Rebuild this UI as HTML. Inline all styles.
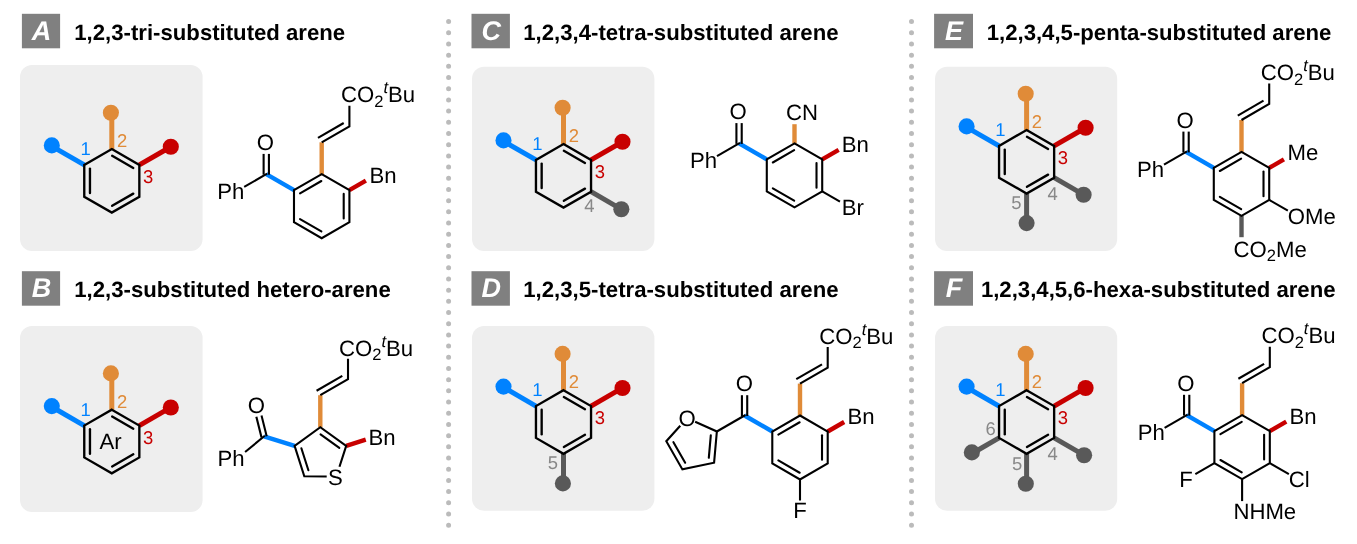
<!DOCTYPE html>
<html lang="en">
<head>
<meta charset="utf-8">
<title>Substituted arenes</title>
<style>
html,body{margin:0;padding:0;background:#fff;}
body{width:1357px;height:544px;overflow:hidden;}
svg{display:block;will-change:transform;text-rendering:geometricPrecision;font-family:"Liberation Sans",sans-serif;}
</style>
</head>
<body>
<svg width="1357" height="544" viewBox="0 0 1357 544">
<rect x="21.9" y="13.8" width="38.2" height="34.5" rx="0" fill="#808080"/>
<text x="41.5" y="39.9" font-size="27" fill="#fff" text-anchor="middle" font-weight="bold" font-style="italic">A</text>
<text x="74.3" y="39.5" font-size="22.16" fill="#000" text-anchor="start" font-weight="bold">1,2,3-tri-substituted arene</text>
<rect x="21.9" y="271.2" width="38.2" height="34.5" rx="0" fill="#808080"/>
<text x="41.5" y="297.3" font-size="27" fill="#fff" text-anchor="middle" font-weight="bold" font-style="italic">B</text>
<text x="74.3" y="296.9" font-size="22.16" fill="#000" text-anchor="start" font-weight="bold">1,2,3-substituted hetero-arene</text>
<rect x="471.5" y="13.8" width="38.4" height="34.5" rx="0" fill="#808080"/>
<text x="491.2" y="39.9" font-size="27" fill="#fff" text-anchor="middle" font-weight="bold" font-style="italic">C</text>
<text x="523.3" y="39.5" font-size="22.16" fill="#000" text-anchor="start" font-weight="bold">1,2,3,4-tetra-substituted arene</text>
<rect x="471.5" y="271.2" width="38.4" height="34.5" rx="0" fill="#808080"/>
<text x="491.2" y="297.3" font-size="27" fill="#fff" text-anchor="middle" font-weight="bold" font-style="italic">D</text>
<text x="523.3" y="296.9" font-size="22.16" fill="#000" text-anchor="start" font-weight="bold">1,2,3,5-tetra-substituted arene</text>
<rect x="934.1" y="13.8" width="38.9" height="34.5" rx="0" fill="#808080"/>
<text x="954.05" y="39.9" font-size="27" fill="#fff" text-anchor="middle" font-weight="bold" font-style="italic">E</text>
<text x="986.7" y="39.5" font-size="22.16" fill="#000" text-anchor="start" font-weight="bold">1,2,3,4,5-penta-substituted arene</text>
<rect x="934.1" y="271.2" width="38.9" height="34.5" rx="0" fill="#808080"/>
<text x="954.05" y="297.3" font-size="27" fill="#fff" text-anchor="middle" font-weight="bold" font-style="italic">F</text>
<text x="980.9" y="296.9" font-size="22.16" fill="#000" text-anchor="start" font-weight="bold">1,2,3,4,5,6-hexa-substituted arene</text>
<line x1="448.6" y1="21.6" x2="448.6" y2="525.5" stroke="#bbbbbb" stroke-width="5" stroke-linecap="round" stroke-dasharray="0 11.19"/>
<line x1="911.5" y1="21.6" x2="911.5" y2="525.5" stroke="#bbbbbb" stroke-width="5" stroke-linecap="round" stroke-dasharray="0 11.19"/>
<rect x="20" y="65" width="182.6" height="186" rx="12" fill="#eeeeee"/>
<line x1="84.26" y1="164.9" x2="56.39" y2="148.81" stroke="#0082ff" stroke-width="5" stroke-linecap="butt"/>
<circle cx="51.8" cy="145.4" r="8.05" fill="#0082ff"/>
<line x1="111.8" y1="149" x2="111.8" y2="118.14" stroke="#e08b38" stroke-width="5" stroke-linecap="butt"/>
<circle cx="110.9" cy="112.7" r="8.05" fill="#e08b38"/>
<line x1="139.34" y1="164.9" x2="166.06" y2="149.47" stroke="#c80000" stroke-width="5" stroke-linecap="butt"/>
<circle cx="170.8" cy="146.8" r="8.05" fill="#c80000"/>
<path d="M111.8 149 L139.34 164.9 L139.34 196.7 L111.8 212.6 L84.26 196.7 L84.26 164.9 Z" fill="none" stroke="#000" stroke-width="2.35" stroke-linejoin="miter" stroke-miterlimit="10"/>
<line x1="112.15" y1="155.78" x2="133.29" y2="167.99" stroke="#000" stroke-width="2.35" stroke-linecap="round"/>
<line x1="133.29" y1="193.61" x2="112.15" y2="205.82" stroke="#000" stroke-width="2.35" stroke-linecap="round"/>
<line x1="89.96" y1="193.01" x2="89.96" y2="168.59" stroke="#000" stroke-width="2.35" stroke-linecap="round"/>
<text x="85.7" y="155.2" font-size="18.47" fill="#0082ff" text-anchor="middle">1</text>
<text x="122.2" y="146.8" font-size="18.47" fill="#e08b38" text-anchor="middle">2</text>
<text x="148.1" y="183.2" font-size="18.47" fill="#c80000" text-anchor="middle">3</text>
<rect x="20" y="326" width="182.6" height="186" rx="12" fill="#eeeeee"/>
<line x1="84.26" y1="425.6" x2="56.39" y2="409.51" stroke="#0082ff" stroke-width="5" stroke-linecap="butt"/>
<circle cx="51.8" cy="406.1" r="8.05" fill="#0082ff"/>
<line x1="111.8" y1="409.7" x2="111.8" y2="378.84" stroke="#e08b38" stroke-width="5" stroke-linecap="butt"/>
<circle cx="110.9" cy="373.4" r="8.05" fill="#e08b38"/>
<line x1="139.34" y1="425.6" x2="166.06" y2="410.17" stroke="#c80000" stroke-width="5" stroke-linecap="butt"/>
<circle cx="170.8" cy="407.5" r="8.05" fill="#c80000"/>
<path d="M111.8 409.7 L139.34 425.6 L139.34 457.4 L111.8 473.3 L84.26 457.4 L84.26 425.6 Z" fill="none" stroke="#000" stroke-width="2.35" stroke-linejoin="miter" stroke-miterlimit="10"/>
<line x1="112.15" y1="416.48" x2="133.29" y2="428.69" stroke="#000" stroke-width="2.35" stroke-linecap="round"/>
<line x1="133.29" y1="454.31" x2="112.15" y2="466.52" stroke="#000" stroke-width="2.35" stroke-linecap="round"/>
<line x1="89.96" y1="453.71" x2="89.96" y2="429.29" stroke="#000" stroke-width="2.35" stroke-linecap="round"/>
<text x="85.7" y="415.9" font-size="18.47" fill="#0082ff" text-anchor="middle">1</text>
<text x="122.2" y="407.5" font-size="18.47" fill="#e08b38" text-anchor="middle">2</text>
<text x="148.1" y="443.9" font-size="18.47" fill="#c80000" text-anchor="middle">3</text>
<text x="110.6" y="449" font-size="22.16" fill="#000" text-anchor="middle">Ar</text>
<rect x="472" y="66.7" width="182.4" height="184.3" rx="12" fill="#eeeeee"/>
<line x1="535.96" y1="159.9" x2="508.09" y2="143.81" stroke="#0082ff" stroke-width="5" stroke-linecap="butt"/>
<circle cx="503.5" cy="140.4" r="8.05" fill="#0082ff"/>
<line x1="563.5" y1="144" x2="563.5" y2="113.14" stroke="#e08b38" stroke-width="5" stroke-linecap="butt"/>
<circle cx="562.6" cy="107.7" r="8.05" fill="#e08b38"/>
<line x1="591.04" y1="159.9" x2="617.76" y2="144.47" stroke="#c80000" stroke-width="5" stroke-linecap="butt"/>
<circle cx="622.5" cy="141.8" r="8.05" fill="#c80000"/>
<line x1="591.04" y1="191.7" x2="616.8" y2="206.57" stroke="#595959" stroke-width="5" stroke-linecap="butt"/>
<circle cx="621.35" cy="209.2" r="8.05" fill="#595959"/>
<path d="M563.5 144 L591.04 159.9 L591.04 191.7 L563.5 207.6 L535.96 191.7 L535.96 159.9 Z" fill="none" stroke="#000" stroke-width="2.35" stroke-linejoin="miter" stroke-miterlimit="10"/>
<line x1="563.85" y1="150.78" x2="584.99" y2="162.99" stroke="#000" stroke-width="2.35" stroke-linecap="round"/>
<line x1="584.99" y1="188.61" x2="563.85" y2="200.82" stroke="#000" stroke-width="2.35" stroke-linecap="round"/>
<line x1="541.66" y1="188.01" x2="541.66" y2="163.59" stroke="#000" stroke-width="2.35" stroke-linecap="round"/>
<text x="537.4" y="150.2" font-size="18.47" fill="#0082ff" text-anchor="middle">1</text>
<text x="573.9" y="141.8" font-size="18.47" fill="#e08b38" text-anchor="middle">2</text>
<text x="599.8" y="178.2" font-size="18.47" fill="#c80000" text-anchor="middle">3</text>
<text x="589.5" y="211.8" font-size="18.47" fill="#888888" text-anchor="middle">4</text>
<rect x="472" y="326" width="182.4" height="184.8" rx="12" fill="#eeeeee"/>
<line x1="535.96" y1="406.1" x2="508.09" y2="390.01" stroke="#0082ff" stroke-width="5" stroke-linecap="butt"/>
<circle cx="503.5" cy="386.6" r="8.05" fill="#0082ff"/>
<line x1="563.5" y1="390.2" x2="563.5" y2="359.34" stroke="#e08b38" stroke-width="5" stroke-linecap="butt"/>
<circle cx="562.6" cy="353.9" r="8.05" fill="#e08b38"/>
<line x1="591.04" y1="406.1" x2="617.76" y2="390.67" stroke="#c80000" stroke-width="5" stroke-linecap="butt"/>
<circle cx="622.5" cy="388" r="8.05" fill="#c80000"/>
<line x1="563.5" y1="453.8" x2="563.5" y2="478.97" stroke="#595959" stroke-width="5" stroke-linecap="butt"/>
<circle cx="562.9" cy="483.4" r="8.05" fill="#595959"/>
<path d="M563.5 390.2 L591.04 406.1 L591.04 437.9 L563.5 453.8 L535.96 437.9 L535.96 406.1 Z" fill="none" stroke="#000" stroke-width="2.35" stroke-linejoin="miter" stroke-miterlimit="10"/>
<line x1="563.85" y1="396.98" x2="584.99" y2="409.19" stroke="#000" stroke-width="2.35" stroke-linecap="round"/>
<line x1="584.99" y1="434.81" x2="563.85" y2="447.02" stroke="#000" stroke-width="2.35" stroke-linecap="round"/>
<line x1="541.66" y1="434.21" x2="541.66" y2="409.79" stroke="#000" stroke-width="2.35" stroke-linecap="round"/>
<text x="537.4" y="396.4" font-size="18.47" fill="#0082ff" text-anchor="middle">1</text>
<text x="573.9" y="388" font-size="18.47" fill="#e08b38" text-anchor="middle">2</text>
<text x="599.8" y="424.4" font-size="18.47" fill="#c80000" text-anchor="middle">3</text>
<text x="553" y="469" font-size="18.47" fill="#888888" text-anchor="middle">5</text>
<rect x="935" y="66.7" width="182.2" height="184.3" rx="12" fill="#eeeeee"/>
<line x1="999.06" y1="145.9" x2="971.19" y2="129.81" stroke="#0082ff" stroke-width="5" stroke-linecap="butt"/>
<circle cx="966.6" cy="126.4" r="8.05" fill="#0082ff"/>
<line x1="1026.6" y1="130" x2="1026.6" y2="99.14" stroke="#e08b38" stroke-width="5" stroke-linecap="butt"/>
<circle cx="1025.7" cy="93.7" r="8.05" fill="#e08b38"/>
<line x1="1054.14" y1="145.9" x2="1080.86" y2="130.47" stroke="#c80000" stroke-width="5" stroke-linecap="butt"/>
<circle cx="1085.6" cy="127.8" r="8.05" fill="#c80000"/>
<line x1="1054.14" y1="177.7" x2="1079.18" y2="192.16" stroke="#595959" stroke-width="5" stroke-linecap="butt"/>
<circle cx="1083.6" cy="194.7" r="8.05" fill="#595959"/>
<line x1="1026.6" y1="193.6" x2="1026.6" y2="218.68" stroke="#595959" stroke-width="5" stroke-linecap="butt"/>
<circle cx="1026.6" cy="223.1" r="8.05" fill="#595959"/>
<path d="M1026.6 130 L1054.14 145.9 L1054.14 177.7 L1026.6 193.6 L999.06 177.7 L999.06 145.9 Z" fill="none" stroke="#000" stroke-width="2.35" stroke-linejoin="miter" stroke-miterlimit="10"/>
<line x1="1026.95" y1="136.78" x2="1048.09" y2="148.99" stroke="#000" stroke-width="2.35" stroke-linecap="round"/>
<line x1="1048.09" y1="174.61" x2="1026.95" y2="186.82" stroke="#000" stroke-width="2.35" stroke-linecap="round"/>
<line x1="1004.76" y1="174.01" x2="1004.76" y2="149.59" stroke="#000" stroke-width="2.35" stroke-linecap="round"/>
<text x="1000.5" y="136.2" font-size="18.47" fill="#0082ff" text-anchor="middle">1</text>
<text x="1037" y="127.8" font-size="18.47" fill="#e08b38" text-anchor="middle">2</text>
<text x="1062.9" y="164.2" font-size="18.47" fill="#c80000" text-anchor="middle">3</text>
<text x="1052.6" y="199.8" font-size="18.47" fill="#888888" text-anchor="middle">4</text>
<text x="1016.3" y="209" font-size="18.47" fill="#888888" text-anchor="middle">5</text>
<rect x="935" y="326" width="182.2" height="184.8" rx="12" fill="#eeeeee"/>
<line x1="999.06" y1="406.1" x2="971.19" y2="390.01" stroke="#0082ff" stroke-width="5" stroke-linecap="butt"/>
<circle cx="966.6" cy="386.6" r="8.05" fill="#0082ff"/>
<line x1="1026.6" y1="390.2" x2="1026.6" y2="359.34" stroke="#e08b38" stroke-width="5" stroke-linecap="butt"/>
<circle cx="1025.7" cy="353.9" r="8.05" fill="#e08b38"/>
<line x1="1054.14" y1="406.1" x2="1080.86" y2="390.67" stroke="#c80000" stroke-width="5" stroke-linecap="butt"/>
<circle cx="1085.6" cy="388" r="8.05" fill="#c80000"/>
<line x1="1054.14" y1="437.9" x2="1079.64" y2="452.62" stroke="#595959" stroke-width="5" stroke-linecap="butt"/>
<circle cx="1084.1" cy="455.3" r="8.05" fill="#595959"/>
<line x1="1026.6" y1="453.8" x2="1026.6" y2="479.22" stroke="#595959" stroke-width="5" stroke-linecap="butt"/>
<circle cx="1025.8" cy="483.7" r="8.05" fill="#595959"/>
<line x1="999.06" y1="437.9" x2="976.36" y2="451" stroke="#595959" stroke-width="5" stroke-linecap="butt"/>
<circle cx="971.85" cy="452.4" r="8.05" fill="#595959"/>
<path d="M1026.6 390.2 L1054.14 406.1 L1054.14 437.9 L1026.6 453.8 L999.06 437.9 L999.06 406.1 Z" fill="none" stroke="#000" stroke-width="2.35" stroke-linejoin="miter" stroke-miterlimit="10"/>
<line x1="1026.95" y1="396.98" x2="1048.09" y2="409.19" stroke="#000" stroke-width="2.35" stroke-linecap="round"/>
<line x1="1048.09" y1="434.81" x2="1026.95" y2="447.02" stroke="#000" stroke-width="2.35" stroke-linecap="round"/>
<line x1="1004.76" y1="434.21" x2="1004.76" y2="409.79" stroke="#000" stroke-width="2.35" stroke-linecap="round"/>
<text x="1000.5" y="396.4" font-size="18.47" fill="#0082ff" text-anchor="middle">1</text>
<text x="1037" y="388" font-size="18.47" fill="#e08b38" text-anchor="middle">2</text>
<text x="1062.9" y="424.4" font-size="18.47" fill="#c80000" text-anchor="middle">3</text>
<text x="1052.6" y="460" font-size="18.47" fill="#888888" text-anchor="middle">4</text>
<text x="1017.1" y="470" font-size="18.47" fill="#888888" text-anchor="middle">5</text>
<text x="990.6" y="435" font-size="18.47" fill="#888888" text-anchor="middle">6</text>
<line x1="321.7" y1="174.2" x2="321.7" y2="142.3" stroke="#e08b38" stroke-width="4.4" stroke-linecap="butt"/>
<path d="M321.7 142.3 L349.41 126.3 L349.41 105.8" fill="none" stroke="#000" stroke-width="2.1" stroke-linejoin="miter" stroke-miterlimit="10"/>
<line x1="317.98" y1="137.86" x2="343.7" y2="123.01" stroke="#000" stroke-width="2.1" stroke-linecap="butt"/>
<text x="341.01" y="102.3" font-size="22.16" fill="#000" text-anchor="start">CO<tspan dy="4.6" font-size="16.5">2</tspan><tspan dy="-13.7" font-size="16.5" font-style="italic">t</tspan><tspan dy="9.1">Bu</tspan></text>
<line x1="293.99" y1="190.2" x2="266.27" y2="174.2" stroke="#0082ff" stroke-width="4.4" stroke-linecap="butt"/>
<line x1="263.62" y1="174.7" x2="263.62" y2="153.9" stroke="#000" stroke-width="2.1" stroke-linecap="butt"/>
<line x1="268.92" y1="174.7" x2="268.92" y2="153.9" stroke="#000" stroke-width="2.1" stroke-linecap="butt"/>
<text x="265.37" y="150.1" font-size="22.16" fill="#000" text-anchor="middle">O</text>
<line x1="267.14" y1="173.7" x2="244.19" y2="186.95" stroke="#000" stroke-width="2.1" stroke-linecap="butt"/>
<text x="244.39" y="198.95" font-size="22.16" fill="#000" text-anchor="end">Ph</text>
<line x1="349.41" y1="190.2" x2="365.87" y2="180.7" stroke="#c80000" stroke-width="4.4" stroke-linecap="butt"/>
<text x="369.5" y="182.5" font-size="22.16" fill="#000" text-anchor="start">Bn</text>
<path d="M321.7 174.2 L349.41 190.2 L349.41 222.2 L321.7 238.2 L293.99 222.2 L293.99 190.2 Z" fill="none" stroke="#000" stroke-width="2.1" stroke-linejoin="miter" stroke-miterlimit="10"/>
<line x1="300.03" y1="193.29" x2="321.35" y2="180.98" stroke="#000" stroke-width="2.1" stroke-linecap="round"/>
<line x1="343.71" y1="193.89" x2="343.71" y2="218.51" stroke="#000" stroke-width="2.1" stroke-linecap="round"/>
<line x1="321.35" y1="231.42" x2="300.03" y2="219.11" stroke="#000" stroke-width="2.1" stroke-linecap="round"/>
<line x1="766.79" y1="159.4" x2="739.07" y2="143.4" stroke="#0082ff" stroke-width="4.4" stroke-linecap="butt"/>
<line x1="736.42" y1="143.9" x2="736.42" y2="123.1" stroke="#000" stroke-width="2.1" stroke-linecap="butt"/>
<line x1="741.72" y1="143.9" x2="741.72" y2="123.1" stroke="#000" stroke-width="2.1" stroke-linecap="butt"/>
<text x="738.17" y="119.3" font-size="22.16" fill="#000" text-anchor="middle">O</text>
<line x1="739.94" y1="142.9" x2="716.99" y2="156.15" stroke="#000" stroke-width="2.1" stroke-linecap="butt"/>
<text x="717.19" y="168.15" font-size="22.16" fill="#000" text-anchor="end">Ph</text>
<line x1="794.5" y1="143.4" x2="794.5" y2="124.2" stroke="#e08b38" stroke-width="4.4" stroke-linecap="butt"/>
<text x="786" y="119.6" font-size="22.16" fill="#000" text-anchor="start">CN</text>
<line x1="822.21" y1="159.4" x2="838.67" y2="149.9" stroke="#c80000" stroke-width="4.4" stroke-linecap="butt"/>
<text x="841.7" y="151.5" font-size="22.16" fill="#000" text-anchor="start">Bn</text>
<line x1="822.21" y1="191.4" x2="839.97" y2="201.65" stroke="#000" stroke-width="2.1" stroke-linecap="butt"/>
<text x="841.7" y="215" font-size="22.16" fill="#000" text-anchor="start">Br</text>
<path d="M794.5 143.4 L822.21 159.4 L822.21 191.4 L794.5 207.4 L766.79 191.4 L766.79 159.4 Z" fill="none" stroke="#000" stroke-width="2.1" stroke-linejoin="miter" stroke-miterlimit="10"/>
<line x1="772.83" y1="162.49" x2="794.15" y2="150.18" stroke="#000" stroke-width="2.1" stroke-linecap="round"/>
<line x1="816.51" y1="163.09" x2="816.51" y2="187.71" stroke="#000" stroke-width="2.1" stroke-linecap="round"/>
<line x1="794.15" y1="200.62" x2="772.83" y2="188.31" stroke="#000" stroke-width="2.1" stroke-linecap="round"/>
<line x1="800" y1="415.5" x2="800" y2="383.6" stroke="#e08b38" stroke-width="4.4" stroke-linecap="butt"/>
<path d="M800 383.6 L827.71 367.6 L827.71 347.1" fill="none" stroke="#000" stroke-width="2.1" stroke-linejoin="miter" stroke-miterlimit="10"/>
<line x1="796.28" y1="379.16" x2="822" y2="364.31" stroke="#000" stroke-width="2.1" stroke-linecap="butt"/>
<text x="819.31" y="343.6" font-size="22.16" fill="#000" text-anchor="start">CO<tspan dy="4.6" font-size="16.5">2</tspan><tspan dy="-13.7" font-size="16.5" font-style="italic">t</tspan><tspan dy="9.1">Bu</tspan></text>
<line x1="772.29" y1="431.5" x2="744.57" y2="415.5" stroke="#0082ff" stroke-width="4.4" stroke-linecap="butt"/>
<line x1="741.92" y1="416" x2="741.92" y2="395.2" stroke="#000" stroke-width="2.1" stroke-linecap="butt"/>
<line x1="747.22" y1="416" x2="747.22" y2="395.2" stroke="#000" stroke-width="2.1" stroke-linecap="butt"/>
<text x="744.37" y="391.4" font-size="22.16" fill="#000" text-anchor="middle">O</text>
<line x1="827.71" y1="431.5" x2="844.17" y2="422" stroke="#c80000" stroke-width="4.4" stroke-linecap="butt"/>
<text x="847.5" y="423.5" font-size="22.16" fill="#000" text-anchor="start">Bn</text>
<line x1="800" y1="479.5" x2="800" y2="500.5" stroke="#000" stroke-width="2.1" stroke-linecap="butt"/>
<text x="800" y="518.3" font-size="22.16" fill="#000" text-anchor="middle">F</text>
<path d="M800 415.5 L827.71 431.5 L827.71 463.5 L800 479.5 L772.29 463.5 L772.29 431.5 Z" fill="none" stroke="#000" stroke-width="2.1" stroke-linejoin="miter" stroke-miterlimit="10"/>
<line x1="778.33" y1="434.59" x2="799.65" y2="422.28" stroke="#000" stroke-width="2.1" stroke-linecap="round"/>
<line x1="822.01" y1="435.19" x2="822.01" y2="459.81" stroke="#000" stroke-width="2.1" stroke-linecap="round"/>
<line x1="799.65" y1="472.72" x2="778.33" y2="460.41" stroke="#000" stroke-width="2.1" stroke-linecap="round"/>
<line x1="745.44" y1="415" x2="716.86" y2="431.5" stroke="#000" stroke-width="2.1" stroke-linecap="butt"/>
<path d="M695.14 421.79 L716.86 431.5 L714.1 462.7 L682.4 469.4 L666.3 441.2 L680.24 425.79" fill="none" stroke="#000" stroke-width="2.1" stroke-linejoin="miter" stroke-miterlimit="10"/>
<line x1="710.8" y1="435.38" x2="708.81" y2="457.81" stroke="#000" stroke-width="2.1" stroke-linecap="round"/>
<line x1="685.17" y1="462.75" x2="673.43" y2="442.2" stroke="#000" stroke-width="2.1" stroke-linecap="round"/>
<text x="687.1" y="425.8" font-size="22.16" fill="#000" text-anchor="middle">O</text>
<line x1="1241.5" y1="151.9" x2="1241.5" y2="120" stroke="#e08b38" stroke-width="4.4" stroke-linecap="butt"/>
<path d="M1241.5 120 L1269.21 104 L1269.21 83.5" fill="none" stroke="#000" stroke-width="2.1" stroke-linejoin="miter" stroke-miterlimit="10"/>
<line x1="1237.78" y1="115.56" x2="1263.5" y2="100.71" stroke="#000" stroke-width="2.1" stroke-linecap="butt"/>
<text x="1260.81" y="80" font-size="22.16" fill="#000" text-anchor="start">CO<tspan dy="4.6" font-size="16.5">2</tspan><tspan dy="-13.7" font-size="16.5" font-style="italic">t</tspan><tspan dy="9.1">Bu</tspan></text>
<line x1="1213.79" y1="167.9" x2="1186.07" y2="151.9" stroke="#0082ff" stroke-width="4.4" stroke-linecap="butt"/>
<line x1="1183.42" y1="152.4" x2="1183.42" y2="131.6" stroke="#000" stroke-width="2.1" stroke-linecap="butt"/>
<line x1="1188.72" y1="152.4" x2="1188.72" y2="131.6" stroke="#000" stroke-width="2.1" stroke-linecap="butt"/>
<text x="1185.17" y="127.8" font-size="22.16" fill="#000" text-anchor="middle">O</text>
<line x1="1186.94" y1="151.4" x2="1163.99" y2="164.65" stroke="#000" stroke-width="2.1" stroke-linecap="butt"/>
<text x="1164.19" y="176.65" font-size="22.16" fill="#000" text-anchor="end">Ph</text>
<line x1="1269.21" y1="167.9" x2="1283.94" y2="159.4" stroke="#c80000" stroke-width="4.4" stroke-linecap="butt"/>
<text x="1287.5" y="160.2" font-size="22.16" fill="#000" text-anchor="start">Me</text>
<line x1="1269.21" y1="199.9" x2="1287.83" y2="210.65" stroke="#000" stroke-width="2.1" stroke-linecap="butt"/>
<text x="1287.8" y="224.4" font-size="22.16" fill="#000" text-anchor="start">OMe</text>
<line x1="1241.5" y1="215.9" x2="1241.5" y2="237.2" stroke="#595959" stroke-width="4.4" stroke-linecap="butt"/>
<text x="1233.5" y="256.8" font-size="22.16" fill="#000" text-anchor="start">CO<tspan dy="4.6" font-size="16.5">2</tspan><tspan dy="-4.6">Me</tspan></text>
<path d="M1241.5 151.9 L1269.21 167.9 L1269.21 199.9 L1241.5 215.9 L1213.79 199.9 L1213.79 167.9 Z" fill="none" stroke="#000" stroke-width="2.1" stroke-linejoin="miter" stroke-miterlimit="10"/>
<line x1="1219.83" y1="170.99" x2="1241.15" y2="158.68" stroke="#000" stroke-width="2.1" stroke-linecap="round"/>
<line x1="1263.51" y1="171.59" x2="1263.51" y2="196.21" stroke="#000" stroke-width="2.1" stroke-linecap="round"/>
<line x1="1241.15" y1="209.12" x2="1219.83" y2="196.81" stroke="#000" stroke-width="2.1" stroke-linecap="round"/>
<line x1="1242.1" y1="415.1" x2="1242.1" y2="383.2" stroke="#e08b38" stroke-width="4.4" stroke-linecap="butt"/>
<path d="M1242.1 383.2 L1269.81 367.2 L1269.81 346.7" fill="none" stroke="#000" stroke-width="2.1" stroke-linejoin="miter" stroke-miterlimit="10"/>
<line x1="1238.38" y1="378.76" x2="1264.1" y2="363.91" stroke="#000" stroke-width="2.1" stroke-linecap="butt"/>
<text x="1261.41" y="343.2" font-size="22.16" fill="#000" text-anchor="start">CO<tspan dy="4.6" font-size="16.5">2</tspan><tspan dy="-13.7" font-size="16.5" font-style="italic">t</tspan><tspan dy="9.1">Bu</tspan></text>
<line x1="1214.39" y1="431.1" x2="1186.67" y2="415.1" stroke="#0082ff" stroke-width="4.4" stroke-linecap="butt"/>
<line x1="1184.02" y1="415.6" x2="1184.02" y2="394.8" stroke="#000" stroke-width="2.1" stroke-linecap="butt"/>
<line x1="1189.32" y1="415.6" x2="1189.32" y2="394.8" stroke="#000" stroke-width="2.1" stroke-linecap="butt"/>
<text x="1185.77" y="391" font-size="22.16" fill="#000" text-anchor="middle">O</text>
<line x1="1187.54" y1="414.6" x2="1164.59" y2="427.85" stroke="#000" stroke-width="2.1" stroke-linecap="butt"/>
<text x="1164.79" y="439.85" font-size="22.16" fill="#000" text-anchor="end">Ph</text>
<line x1="1269.81" y1="431.1" x2="1286.27" y2="421.6" stroke="#c80000" stroke-width="4.4" stroke-linecap="butt"/>
<text x="1289.5" y="423.9" font-size="22.16" fill="#000" text-anchor="start">Bn</text>
<line x1="1269.81" y1="463.1" x2="1288.87" y2="474.1" stroke="#000" stroke-width="2.1" stroke-linecap="butt"/>
<text x="1288.7" y="487" font-size="22.16" fill="#000" text-anchor="start">Cl</text>
<line x1="1214.39" y1="463.1" x2="1195.33" y2="474.1" stroke="#000" stroke-width="2.1" stroke-linecap="butt"/>
<text x="1186.01" y="487.1" font-size="22.16" fill="#000" text-anchor="middle">F</text>
<line x1="1242.1" y1="479.1" x2="1242.1" y2="501.1" stroke="#000" stroke-width="2.1" stroke-linecap="butt"/>
<text x="1233.4" y="518.7" font-size="22.16" fill="#000" text-anchor="start">NHMe</text>
<path d="M1242.1 415.1 L1269.81 431.1 L1269.81 463.1 L1242.1 479.1 L1214.39 463.1 L1214.39 431.1 Z" fill="none" stroke="#000" stroke-width="2.1" stroke-linejoin="miter" stroke-miterlimit="10"/>
<line x1="1220.43" y1="434.19" x2="1241.75" y2="421.88" stroke="#000" stroke-width="2.1" stroke-linecap="round"/>
<line x1="1264.11" y1="434.79" x2="1264.11" y2="459.41" stroke="#000" stroke-width="2.1" stroke-linecap="round"/>
<line x1="1241.75" y1="472.32" x2="1220.43" y2="460.01" stroke="#000" stroke-width="2.1" stroke-linecap="round"/>
<line x1="320.3" y1="427.2" x2="320.3" y2="395.2" stroke="#e08b38" stroke-width="4.4" stroke-linecap="butt"/>
<path d="M320.3 395.2 L348.01 379.2 L348.01 358.7" fill="none" stroke="#000" stroke-width="2.1" stroke-linejoin="miter" stroke-miterlimit="10"/>
<line x1="316.58" y1="390.76" x2="342.3" y2="375.91" stroke="#000" stroke-width="2.1" stroke-linecap="butt"/>
<text x="339.01" y="355.7" font-size="22.16" fill="#000" text-anchor="start">CO<tspan dy="4.6" font-size="16.5">2</tspan><tspan dy="-13.7" font-size="16.5" font-style="italic">t</tspan><tspan dy="9.1">Bu</tspan></text>
<line x1="294.6" y1="445.8" x2="264" y2="436.44" stroke="#0082ff" stroke-width="4.4" stroke-linecap="butt"/>
<line x1="261.55" y1="437.57" x2="256.35" y2="416.71" stroke="#000" stroke-width="2.1" stroke-linecap="butt"/>
<line x1="266.69" y1="436.29" x2="261.49" y2="415.43" stroke="#000" stroke-width="2.1" stroke-linecap="butt"/>
<text x="256.26" y="412.79" font-size="22.16" fill="#000" text-anchor="middle">O</text>
<line x1="264.77" y1="435.81" x2="245.09" y2="452.03" stroke="#000" stroke-width="2.1" stroke-linecap="butt"/>
<text x="244.5" y="465.6" font-size="22.16" fill="#000" text-anchor="end">Ph</text>
<line x1="346.2" y1="445.8" x2="365.75" y2="439.64" stroke="#c80000" stroke-width="4.4" stroke-linecap="butt"/>
<text x="368.5" y="445" font-size="22.16" fill="#000" text-anchor="start">Bn</text>
<path d="M339.47 466.74 L346.2 445.8 L320.3 427.2 L294.6 445.8 L304.3 476.2 L326.7 476.48" fill="none" stroke="#000" stroke-width="2.1" stroke-linejoin="miter" stroke-miterlimit="10"/>
<line x1="320.55" y1="434.4" x2="339.3" y2="447.86" stroke="#000" stroke-width="2.1" stroke-linecap="round"/>
<line x1="301.37" y1="448.26" x2="308.39" y2="470.28" stroke="#000" stroke-width="2.1" stroke-linecap="round"/>
<text x="335.5" y="484.5" font-size="22.16" fill="#000" text-anchor="middle">S</text>
</svg>
</body>
</html>
